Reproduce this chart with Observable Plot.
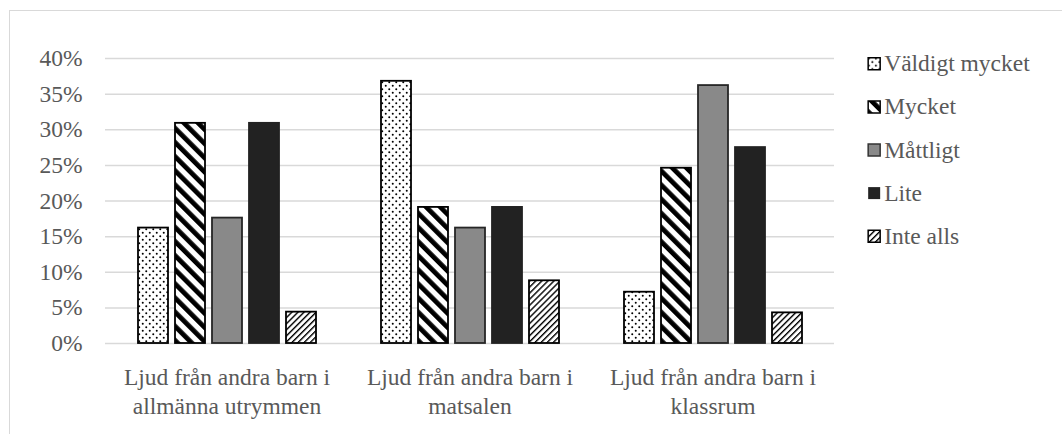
<!DOCTYPE html>
<html>
<head>
<meta charset="utf-8">
<script src="https://cdn.jsdelivr.net/npm/d3@7"></script>
<script src="https://cdn.jsdelivr.net/npm/@observablehq/plot@0.6"></script>
<style>
  html, body { margin: 0; padding: 0; background: #fff; overflow: hidden; }
  #wrap { position: relative; width: 1062px; height: 434px; overflow: hidden; }
  #frame { position: absolute; left: 9px; top: 10px; right: -10px; bottom: -10px; border: 1.5px solid #d9d9d9; }
  #chart { position: absolute; left: 0; top: 0; }
</style>
</head>
<body>
<svg width="0" height="0" style="position:absolute">
  <defs>
    <pattern id="pDots" width="7" height="7" patternUnits="userSpaceOnUse">
      <rect width="7" height="7" fill="#fff"/>
      <circle cx="1.75" cy="1.75" r="1" fill="#000"/>
      <circle cx="5.25" cy="5.25" r="1" fill="#000"/>
    </pattern>
    <pattern id="pWide" width="10" height="10" patternUnits="userSpaceOnUse" patternTransform="rotate(-45)">
      <rect width="10" height="10" fill="#fff"/>
      <rect width="4.8" height="10" fill="#000"/>
    </pattern>
    <pattern id="pGray" width="4" height="4" patternUnits="userSpaceOnUse">
      <rect width="4" height="4" fill="#898989"/>
    </pattern>
    <pattern id="pDark" width="4" height="4" patternUnits="userSpaceOnUse">
      <rect width="4" height="4" fill="#222222"/>
    </pattern>
    <pattern id="pThin" width="4.3" height="4.3" patternUnits="userSpaceOnUse" patternTransform="rotate(45)">
      <rect width="4.3" height="4.3" fill="#fff"/>
      <rect width="1.4" height="4.3" fill="#000"/>
    </pattern>
  </defs>
</svg>
<div id="wrap">
  <div id="frame"></div>
  <div id="chart"></div>
</div>
<script>
const categories = [
  "Ljud från andra barn i\nallmänna utrymmen",
  "Ljud från andra barn i\nmatsalen",
  "Ljud från andra barn i\nklassrum"
];
const series = ["Väldigt mycket", "Mycket", "Måttligt", "Lite", "Inte alls"];
const valuesAllmanna = [16.2, 30.9, 17.6, 30.9, 4.4];
const valuesMatsalen = [36.8, 19.1, 16.2, 19.1, 8.8];
const valuesKlassrum = [7.2, 24.6, 36.2, 27.5, 4.3];
const yTicks = [0, 5, 10, 15, 20, 25, 30, 35, 40];
const patternFills = ["url(#pDots)", "url(#pWide)", "url(#pGray)", "url(#pDark)", "url(#pThin)"];
const strokes = ["#000", "#000", "#262626", "#222", "#000"];
const legendStrokes = ["#000", "#000", "#333", "none", "#000"];

const valueLists = [valuesAllmanna, valuesMatsalen, valuesKlassrum];
const data = [];
categories.forEach((c, i) => {
  series.forEach((s, j) => {
    data.push({cat: c, series: s, value: valueLists[i][j], stroke: strokes[j]});
  });
});

const font = "Liberation Serif, Times New Roman, serif";
const W = 1062, ML = 104, MR = 227;
const facetW = (W - ML - MR) / categories.length;
const lastFacetLeft = ML + facetW * (categories.length - 1);

// Legend marks drawn in the last facet, offset from its top-left corner
const legendMarks = [];
series.forEach((s, j) => {
  const dy = 5.3 + j * 43.1;
  legendMarks.push(
    Plot.dot([s], {fx: () => categories[2], fill: d => d, frameAnchor: "top-left",
      dx: 874 - lastFacetLeft, dy, symbol: "square", r: 6.77,
      stroke: legendStrokes[j], strokeWidth: 1.5}),
    Plot.text([s], {fx: () => categories[2], text: d => d, frameAnchor: "top-left",
      textAnchor: "start", lineAnchor: "middle", dx: 884 - lastFacetLeft, dy, fill: "#595959", fontSize: 23.5})
  );
});

const chart = Plot.plot({
  width: W,
  height: 434,
  marginLeft: ML,
  marginRight: MR,
  marginTop: 58,
  marginBottom: 91,
  style: {fontFamily: font, fontSize: "23.5px", color: "#595959", background: "transparent"},
  fx: {domain: categories, padding: 0, axis: null},
  x: {domain: series, paddingInner: 0.2, paddingOuter: 0.85, axis: null},
  y: {domain: [0, 40], axis: null},
  color: {domain: series, range: patternFills},
  marks: [
    Plot.ruleY(yTicks, {y: d => d, stroke: "#d9d9d9", strokeWidth: 1.5}),
    Plot.barY(data, {fx: "cat", x: "series", y: "value", fill: "series", stroke: "stroke", strokeWidth: 1.8}),
    Plot.axisY({ticks: yTicks, tickFormat: d => d + "%", tickSize: 0, tickPadding: 23, fontSize: 23.5, label: null}),
    Plot.text(categories, {fx: d => d, text: d => d, frameAnchor: "bottom", lineAnchor: "top", dy: 21, lineHeight: 1.22, fontSize: 23.5, fill: "#595959"}),
    ...legendMarks
  ]
});
document.getElementById("chart").appendChild(chart);
</script>
</body>
</html>
